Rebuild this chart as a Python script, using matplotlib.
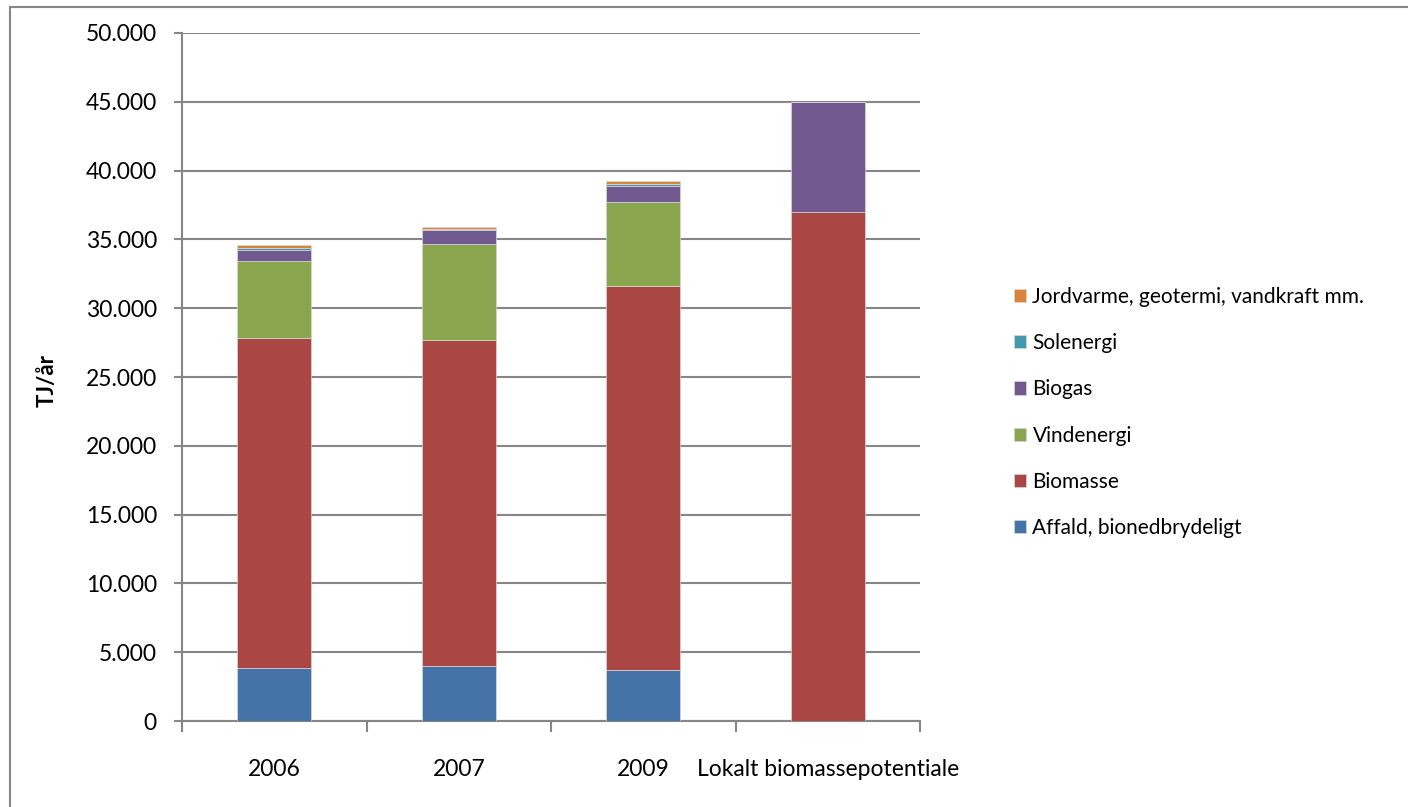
import matplotlib
matplotlib.use("Agg")
import matplotlib.pyplot as plt
from matplotlib.lines import Line2D
from matplotlib.ticker import FuncFormatter, FixedLocator
import numpy as np

plt.rcParams['font.family'] = ['Lato', 'DejaVu Sans']

categories = ["2006", "2007", "2009", "Lokalt biomassepotentiale"]
series_names = ["Affald, bionedbrydeligt", "Biomasse", "Vindenergi", "Biogas",
                "Solenergi", "Jordvarme, geotermi, vandkraft mm."]
affald = [3850, 4000, 3700, 0]
biomasse = [24000, 23700, 27900, 37000]
vindenergi = [5600, 7000, 6150, 0]
biogas = [800, 1000, 1130, 7950]
solenergi = [120, 30, 180, 0]
jordvarme = [220, 180, 170, 0]
series_values = [affald, biomasse, vindenergi, biogas, solenergi, jordvarme]
colors = ["#4572A7", "#AA4643", "#89A54E", "#71588F", "#4198AF", "#DB843D"]

W, H = 1408, 807
fig = plt.figure(figsize=(W / 100, H / 100), dpi=100)
ax = fig.add_axes([182 / W, 1 - 721 / H, (920 - 182) / W, (721 - 33) / H])

x = np.arange(len(categories))
bottom = np.zeros(len(categories))
handles = []
for name, vals, c in zip(series_names, series_values, colors):
    vals = np.array(vals, dtype=float)
    b = ax.bar(x, vals, width=0.4, bottom=bottom, color=c, edgecolor="#d8d8d8",
               linewidth=0.5, label=name, zorder=3)
    handles.append(b)
    bottom += vals

ax.set_xlim(-0.5, 3.5)
ax.set_ylim(0, 50000)
ax.set_yticks(np.arange(0, 50001, 5000))
ax.yaxis.set_major_formatter(FuncFormatter(lambda v, p: f"{int(v):,}".replace(",", ".")))
ax.grid(axis="y", color="#868686", linewidth=1.5, zorder=0)
ax.set_axisbelow(True)

ax.xaxis.set_major_locator(FixedLocator(np.arange(-0.5, 4.0, 1.0)))
ax.xaxis.set_minor_locator(FixedLocator(x))
ax.set_xticklabels([], minor=False)
ax.set_xticklabels(categories, minor=True)
ax.tick_params(axis="x", which="major", length=8, width=1.5, color="#868686", direction="out")
ax.tick_params(axis="x", which="minor", length=0, pad=27, labelsize=16.5)
ax.tick_params(axis="y", length=6, width=1.5, color="#868686", direction="out", pad=12, labelsize=16.5)

for s in ["top", "right"]:
    ax.spines[s].set_visible(False)
for s in ["left", "bottom"]:
    ax.spines[s].set_color("#868686")
    ax.spines[s].set_linewidth(1.5)

fig.text(47 / W, 1 - 380 / H, "TJ/år", rotation=90, fontsize=16, fontweight="bold",
         ha="center", va="center")

leg = fig.legend(handles[::-1], series_names[::-1], loc="upper left",
                 bbox_to_anchor=(995 / W, 1 - 268 / H), frameon=False,
                 fontsize=15, handlelength=0.6, handleheight=0.6, handletextpad=0.3,
                 labelspacing=1.26)

# chart-area border (left and top edges visible)
fig.add_artist(Line2D([10 / W, 10 / W], [0, 1 - 7 / H], transform=fig.transFigure,
                      color="#868686", linewidth=1.5))
fig.add_artist(Line2D([10 / W, 1], [1 - 7 / H, 1 - 7 / H], transform=fig.transFigure,
                      color="#868686", linewidth=1.5))

fig.savefig("out.png", dpi=100)
